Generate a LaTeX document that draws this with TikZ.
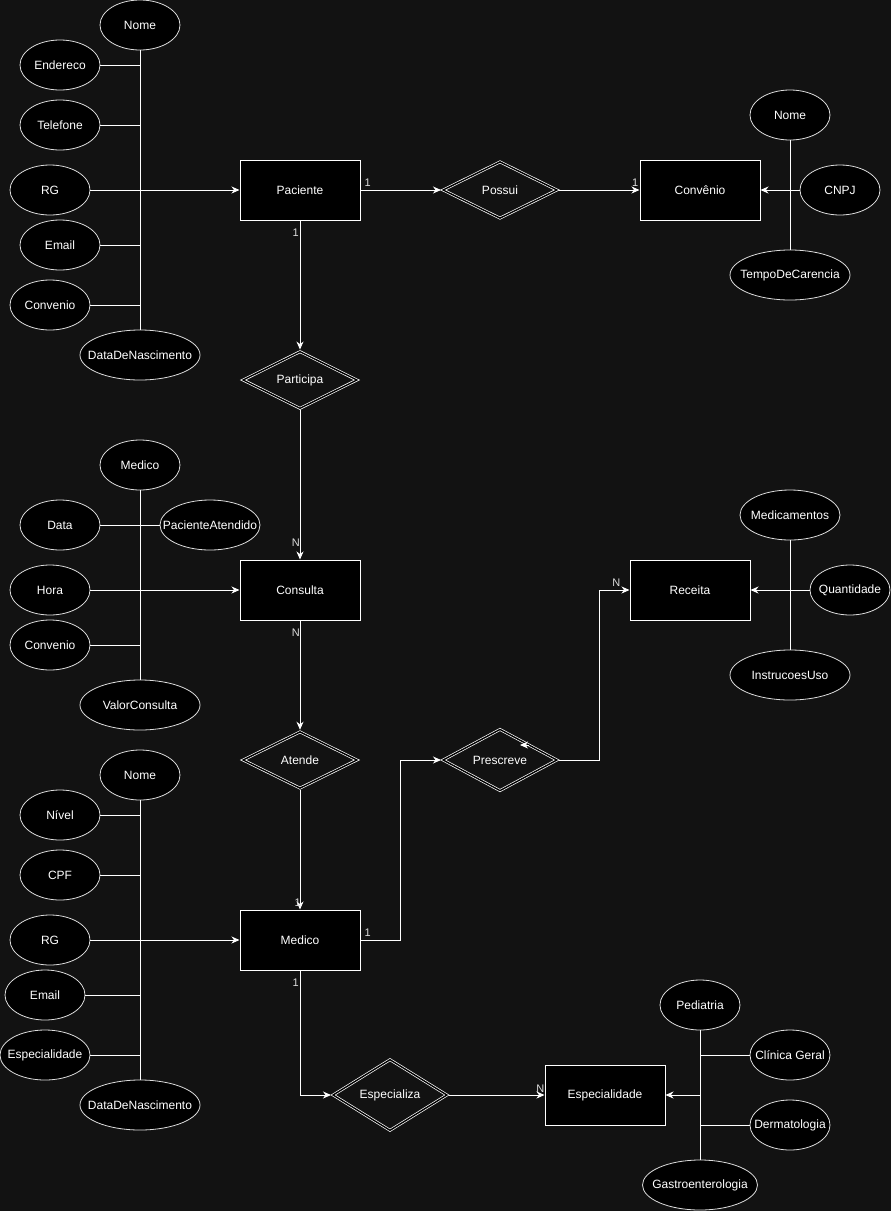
\documentclass[tikz,border=0pt]{standalone}
\usepackage{fontspec}
\setmainfont{Liberation Sans}
\usepackage{tikz}
\usetikzlibrary{shapes.geometric,arrows.meta,positioning,calc}

\definecolor{bgdark}{HTML}{121212}
\definecolor{rimgray}{HTML}{DDDDDD}

\tikzset{
    entity/.style={draw=white, fill=black, line width=1pt, minimum width=120pt, minimum height=60pt, inner sep=0pt, text=white, font=\fontsize{12}{14}\selectfont},
    attrib/.style={ellipse, draw=rimgray, fill=black, line width=0.8pt, minimum width=#1, minimum height=50pt, inner xsep=-70pt, inner ysep=0pt, text=white, font=\fontsize{12}{14}\selectfont},
    attrib/.default=80pt,
    relation/.style={diamond, draw=white, double=black, double distance=1.4pt, line width=0.7pt, minimum width=115pt, minimum height=57.5pt, inner sep=0pt, outer sep=1.5pt, text=white, font=\fontsize{12}{14}\selectfont},
    wire/.style={draw=white, line width=1pt},
    arr/.style={wire, -{Stealth[length=8pt,width=7pt,inset=2.5pt]}},
    card/.style={text=rimgray, font=\fontsize{11}{13}\selectfont, inner sep=0pt},
}

\begin{document}
\begin{tikzpicture}[x=1pt,y=-1pt]
    % Background
    \fill[bgdark] (0,0) rectangle (891,1211);
    \useasboundingbox (0,0) rectangle (891,1211);

    % Paciente
    \node[entity] (pac) at (300,190) {Paciente};
    \node[attrib] (pacNome) at (140,25) {Nome};
    \node[attrib] (pacEnd) at (60,65) {Endereco};
    \node[attrib] (pacTel) at (60,125) {Telefone};
    \node[attrib] (pacRG) at (50,190) {RG};
    \node[attrib] (pacEmail) at (60,245) {Email};
    \node[attrib] (pacConv) at (50,305) {Convenio};
    \node[attrib=120pt] (pacNasc) at (140,355) {DataDeNascimento};
    \draw[wire] (pacNome) -- (pacNasc);
    \foreach \a in {pacEnd,pacTel,pacEmail,pacConv} \draw[wire] (\a) -- (\a -| pacNome);
    \draw[arr] (pacRG) -- (pac);

    % Convenio
    \node[relation] (pos) at (500,190) {Possui};
    \node[entity] (conv) at (700,190) {Convênio};
    \node[attrib] (convNome) at (790,115) {Nome};
    \node[attrib] (convCNPJ) at (840,190) {CNPJ};
    \node[attrib=120pt] (convTempo) at (790,275) {TempoDeCarencia};
    \draw[wire] (convNome) -- (convTempo);
    \draw[arr] (convCNPJ) -- (conv);
    \draw[arr] (pac) -- (pos);
    \draw[arr] (pos) -- (conv);
    \node[card, anchor=south west, xshift=4pt, yshift=3pt] (cPacPos) at (pac.east) {1};
    \node[card, anchor=south east, xshift=-1pt, yshift=3pt] (cPosConv) at (conv.west) {1};

    % Participa
    \node[relation] (part) at (300,380) {Participa};
    \draw[arr] (pac) -- (part);
    \node[card, anchor=north east, xshift=-1pt, yshift=-8pt] (cPacPart) at (pac.south) {1};

    % Consulta
    \node[entity] (cons) at (300,590) {Consulta};
    \node[attrib] (consMed) at (140,465) {Medico};
    \node[attrib] (consData) at (60,525) {Data};
    \node[attrib=100pt] (consPac) at (210,525) {PacienteAtendido};
    \node[attrib] (consHora) at (50,590) {Hora};
    \node[attrib] (consConv) at (50,645) {Convenio};
    \node[attrib=120pt] (consValor) at (140,705) {ValorConsulta};
    \draw[wire] (consMed) -- (consValor);
    \draw[wire] (consData) -- (consPac);
    \draw[wire] (consConv) -- (consConv -| consMed);
    \draw[arr] (consHora) -- (cons);
    \draw[arr] (part) -- (cons);
    \node[card, anchor=south east, yshift=13pt] (cPartCons) at (cons.north) {N};

    % Atende
    \node[relation] (atd) at (300,760) {Atende};
    \draw[arr] (cons) -- (atd);
    \node[card, anchor=north east, yshift=-8pt] (cConsAtd) at (cons.south) {N};

    % Medico
    \node[entity] (med) at (300,940) {Medico};
    \node[attrib] (medNome) at (140,775) {Nome};
    \node[attrib] (medNivel) at (60,815) {Nível};
    \node[attrib] (medCPF) at (60,875) {CPF};
    \node[attrib] (medRG) at (50,940) {RG};
    \node[attrib] (medEmail) at (45,995) {Email};
    \node[attrib=90pt] (medEsp) at (45,1055) {Especialidade};
    \node[attrib=120pt] (medNasc) at (140,1105) {DataDeNascimento};
    \draw[wire] (medNome) -- (medNasc);
    \foreach \a in {medNivel,medCPF,medEmail,medEsp} \draw[wire] (\a) -- (\a -| medNome);
    \draw[arr] (medRG) -- (med);
    \draw[arr] (atd) -- (med);
    \node[card, anchor=south east, xshift=1pt, yshift=3pt] (cAtdMed) at (med.north) {1};

    % Receita
    \node[entity] (rec) at (690,590) {Receita};
    \node[attrib=100pt] (recMed) at (790,515) {Medicamentos};
    \node[attrib] (recQtd) at (850,590) {Quantidade};
    \node[attrib=120pt] (recInst) at (790,675) {InstrucoesUso};
    \draw[wire] (recMed) -- (recInst);
    \draw[arr] (recQtd) -- (rec);

    % Prescreve
    \node[relation] (presc) at (500,760) {Prescreve};
    \draw[arr] (med.east) -- ++(40,0) |- (presc.west);
    \draw[arr] (presc.east) -- ++(40,0) |- (rec.west);
    \coordinate (stray) at (529,745);
    \draw[arr] (stray) -- ++(-9,0);
    \node[card, anchor=south west, xshift=4pt, yshift=3pt] (cMedPresc) at (med.east) {1};
    \node[card, anchor=south east, xshift=-9pt, yshift=3pt] (cPrescRec) at (rec.west) {N};

    % Especialidade
    \node[relation] (espz) at (390,1095) {Especializa};
    \node[entity] (espd) at (605,1095) {Especialidade};
    \node[attrib] (espPed) at (700,1005) {Pediatria};
    \node[attrib] (espCli) at (790,1055) {Clínica Geral};
    \node[attrib] (espDer) at (790,1125) {Dermatologia};
    \node[attrib=115pt] (espGas) at (700,1185) {Gastroenterologia};
    \draw[wire] (espPed) -- (espGas);
    \draw[wire] (espCli) -- (espCli -| espPed);
    \draw[wire] (espDer) -- (espDer -| espPed);
    \draw[arr] (espPed |- espd) -- (espd);
    \draw[arr] (med.south) |- (espz.west);
    \draw[arr] (espz) -- (espd);
    \node[card, anchor=north east, xshift=-1pt, yshift=-8pt] (cMedEspz) at (med.south) {1};
    \node[card, anchor=south east, yshift=2pt] (cEspzEspd) at (espd.west) {N};
\end{tikzpicture}
\end{document}
